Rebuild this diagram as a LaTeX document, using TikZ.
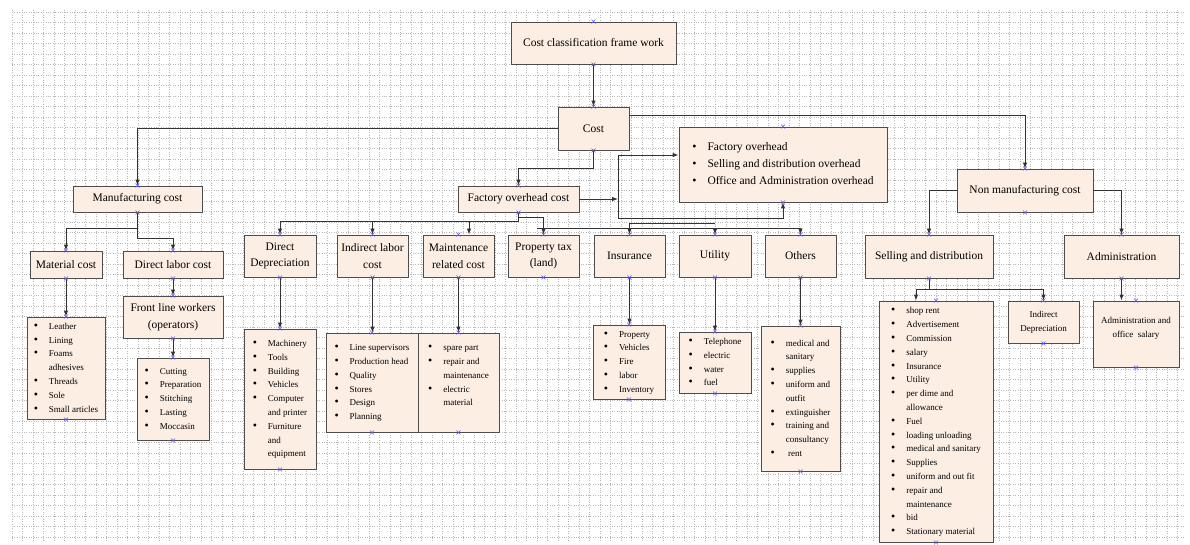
\documentclass[tikz,border=0pt]{standalone}
\usepackage{fontspec}
\setmainfont{Liberation Serif}
\usepackage{tikz}
\usetikzlibrary{arrows.meta}

\definecolor{boxfill}{HTML}{FDEEE4}
\definecolor{boxline}{HTML}{4D4D4D}
\definecolor{linecol}{HTML}{333333}
\definecolor{cptblue}{HTML}{5A5AF0}

\newcommand{\blist}[1]{\begin{tabular}{@{}l@{\hspace{11pt}}l@{}}#1\end{tabular}}
\newcommand{\itm}{{\fontsize{12}{0}\selectfont\textbullet} &}

\tikzset{
  box/.style={draw=boxline, fill=boxfill, line width=0.9pt, inner sep=2pt, align=center,
    font=\fontsize{11.5}{16.5}\selectfont},
  listbox/.style={box, font=\fontsize{9}{13.8}\selectfont},
  arr/.style={draw=linecol, line width=0.9pt, -{Latex[length=6pt,width=4.5pt]}},
  gridline/.style={gray!55, line width=0.4pt, dotted},
  cpt/.style={draw=cptblue, line width=0.5pt}
}

\begin{document}
\begin{tikzpicture}[x=1pt, y=-1pt]
  \useasboundingbox (0,0) rectangle (1190,545);
  % background grid
  \foreach \gx in {12,22.5,...,1185} \draw[gridline] (\gx,10) -- (\gx,542);
  \foreach \gy in {12,22.5,...,542} \draw[gridline] (12,\gy) -- (1185,\gy);

  % top levels
  \node[box, minimum width=165pt, minimum height=42pt] (title) at (593.5,43) {Cost classification frame work};
  \node[box, minimum width=71pt, minimum height=43pt] (cost) at (593.5,128.5) {Cost};
  \node[box, minimum width=129pt, minimum height=26pt] (mfg) at (137.5,199) {Manufacturing cost};
  \node[box, minimum width=121pt, minimum height=26pt] (foc) at (518.5,199) {Factory overhead cost};
  \node[box, minimum width=208pt, minimum height=75pt, font=\fontsize{11.5}{17}\selectfont] (fohlist) at (783,164.5)
    {\begin{tabular}{@{}l@{\hspace{11pt}}l@{}}\itm Factory overhead\\ \itm Selling and distribution overhead\\ \itm Office and Administration overhead\end{tabular}};
  \node[box, minimum width=136pt, minimum height=43pt] (nmc) at (1025,190.5) {Non manufacturing cost};

  % manufacturing side
  \node[box, minimum width=72pt, minimum height=27pt] (matcost) at (66,264.5) {Material cost};
  \node[box, minimum width=100pt, minimum height=27pt] (dlc) at (173,264.5) {Direct labor cost};
  \node[box, minimum width=100pt, minimum height=42pt] (flw) at (173,317) {Front line workers\\(operators)};
  \node[listbox, minimum width=78pt, minimum height=102pt] (matlist) at (66,368)
    {\blist{\itm Leather\\ \itm Lining\\ \itm Foams\\ & adhesives\\ \itm Threads\\ \itm Sole\\ \itm Small articles}};
  \node[listbox, minimum width=72pt, minimum height=82pt] (cutlist) at (173,399)
    {\blist{\itm Cutting\\ \itm Preparation\\ \itm Stitching\\ \itm Lasting\\ \itm Moccasin}};

  % factory overhead row
  \node[box, minimum width=72pt, minimum height=42pt] (ddep) at (280,256) {Direct\\Depreciation};
  \node[box, minimum width=71pt, minimum height=42pt] (ilc) at (372.5,256) {Indirect labor\\cost};
  \node[box, minimum width=71pt, minimum height=42pt] (mrc) at (458.5,256) {Maintenance\\related cost};
  \node[box, minimum width=71pt, minimum height=42pt] (ptax) at (543.5,256) {Property tax\\(land)};
  \node[box, minimum width=71pt, minimum height=42pt] (ins) at (629.5,256) {Insurance};
  \node[box, minimum width=72pt, minimum height=42pt] (util) at (715,256) {Utility};
  \node[box, minimum width=71pt, minimum height=42pt] (others) at (800.5,256) {Others};

  \node[listbox, minimum width=72pt, minimum height=140pt] (ddlist) at (280,399)
    {\blist{\itm Machinery\\ \itm Tools\\ \itm Building\\ \itm Vehicles\\ \itm Computer\\ & and printer\\ \itm Furniture\\ & and\\ & equipment}};
  \node[listbox, minimum width=92pt, minimum height=99pt] (ilclist) at (372,382.5)
    {\blist{\itm Line supervisors\\ \itm Production head\\ \itm Quality\\ \itm Stores\\ \itm Design\\ \itm Planning}};
  \node[listbox, minimum width=81pt, minimum height=99pt] (mrclist) at (458.5,382.5)
    {\blist{\itm spare part\\ \itm repair and\\ & maintenance\\ \itm electric\\ & material\\ & \mbox{}}};
  \node[listbox, minimum width=72pt, minimum height=74pt] (inslist) at (629,362)
    {\blist{\itm Property\\ \itm Vehicles\\ \itm Fire\\ \itm labor\\ \itm Inventory}};
  \node[listbox, minimum width=72pt, minimum height=61pt] (utillist) at (715,362.5)
    {\blist{\itm Telephone\\ \itm electric\\ \itm water\\ \itm fuel}};
  \node[listbox, minimum width=79pt, minimum height=145pt] (othlist) at (800.5,398.5)
    {\blist{\itm medical and\\ & sanitary\\ \itm supplies\\ \itm uniform and\\ & outfit\\ \itm extinguisher\\ \itm training and\\ & consultancy\\ \itm \ rent}};

  % non manufacturing side
  \node[box, minimum width=128pt, minimum height=43pt] (sd) at (929,256.5) {Selling and distribution};
  \node[box, minimum width=115pt, minimum height=43pt] (adm) at (1121.5,256.5) {Administration};
  \node[listbox, minimum width=114pt, minimum height=241pt] (sdlist) at (936,421.5)
    {\blist{\itm shop rent\\ \itm Advertisement\\ \itm Commission\\ \itm salary\\ \itm Insurance\\ \itm Utility\\
      \itm per dime and\\ & allowance\\ \itm Fuel\\ \itm loading unloading\\ \itm medical and sanitary\\ \itm Supplies\\
      \itm uniform and out fit\\ \itm repair and\\ & maintenance\\ \itm bid\\ \itm Stationary material}};
  \node[listbox, minimum width=71pt, minimum height=42pt] (idep) at (1043.5,322) {Indirect\\Depreciation};
  \node[listbox, minimum width=86pt, minimum height=66pt] (admlist) at (1136,334) {Administration and\\office\ \ salary\\ \mbox{}};

  % connectors from the top
  \draw[arr] (title.south) -- (cost.north);
  \draw[arr] (cost.west) -| (mfg.north);
  \draw[arr] ([yshift=13.5pt]cost.east) -| (nmc.north);
  \draw[arr] (cost.south) -- ++(0,18) -| (foc.north);

  % factory overhead cost to the overhead list
  \coordinate (fj) at (618,199);
  \draw[arr] (foc.east) -- (fj);
  \draw[arr] (fj) |- ([yshift=9.5pt]fohlist.west);
  \draw[arr] (fj) -- ++(0,19) -| (fohlist.south);

  % factory overhead cost to its items
  \coordinate (fb) at (518.5,221);
  \draw[arr] (foc.south) -- (fb) -| (ddep.north);
  \draw[arr] (fb -| ilc.north) -- (ilc.north);
  \coordinate (mrcin) at ([xshift=10.5pt]mrc.north);
  \draw[arr] (fb -| mrcin) -- (mrcin);
  \draw[arr] (foc.south) -- ++(0,5) -| (ptax.north);
  \coordinate (pb) at (537,228);
  \draw[arr] (pb) -| (others.north);
  \draw[arr] (pb -| util.north) -- (util.north);
  \coordinate (ib) at (715,223);
  \draw[arr] (ib) -| (ins.north);

  % manufacturing cost
  \draw[arr] (mfg.south) -- ++(0,16) -| (matcost.north);
  \draw[arr] (mfg.south) -- ++(0,26) -| (dlc.north);
  \draw[arr] (matcost.south) -- (matlist.north);
  \draw[arr] (dlc.south) -- (flw.north);
  \draw[arr] (flw.south) -- (cutlist.north);

  % lists below the overhead items
  \draw[arr] (ddep.south) -- (ddlist.north);
  \draw[arr] (ilc.south) -- (ilc.south |- ilclist.north);
  \draw[arr] (mrc.south) -- (mrclist.north);
  \draw[arr] (ins.south) -- (ins.south |- inslist.north);
  \draw[arr] (util.south) -- (utillist.north);
  \draw[arr] (others.south) -- (othlist.north);

  % non manufacturing cost
  \draw[arr] (nmc.west) -| (sd.north);
  \draw[arr] (nmc.east) -| (adm.north);
  \coordinate (sdin) at ([xshift=-20pt]sdlist.north);
  \draw[arr] (sd.south) -- ++(0,11) -| (sdin);
  \draw[arr] (sd.south) -- ++(0,11) -| (idep.north);
  \draw[arr] (adm.south) -- (adm.south |- admlist.north);

  % connection points
  \foreach \n in {title,cost,mfg,foc,fohlist,nmc,matcost,dlc,flw,matlist,cutlist,ddep,ilc,mrc,ptax,ins,util,others,
                  ddlist,ilclist,mrclist,inslist,utillist,othlist,sd,adm,sdlist,idep,admlist}
    \foreach \a in {north,south}
      \draw[cpt] (\n.\a) +(-2,-2) -- +(2,2) +(-2,2) -- +(2,-2);
\end{tikzpicture}
\end{document}
